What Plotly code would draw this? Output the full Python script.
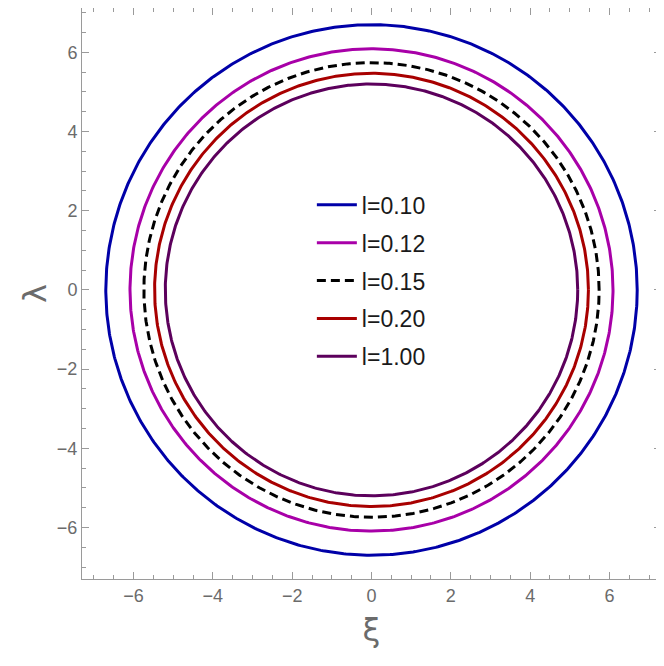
import numpy as np
import plotly.graph_objects as go

# photon-ring radii, one circle per value of l
labels = ['l=0.10', 'l=0.12', 'l=0.15', 'l=0.20', 'l=1.00']
radii = [6.70, 6.09, 5.74, 5.47, 5.20]
colors = ['#0000a8', '#a800a8', '#000000', '#a80000', '#5c005c']
dashes = ['solid', 'solid', '9px,5px', 'solid', 'solid']

theta = np.linspace(0, 2 * np.pi, 721)

fig = go.Figure()
for i, (name, r) in enumerate(zip(labels, radii)):
    fig.add_trace(go.Scatter(
        x=r * np.cos(theta),
        y=r * np.sin(theta),
        mode='lines',
        name=name,
        legendgroup=name,
        line=dict(color=colors[i], width=3, dash=dashes[i]),
    ))

axis_style = dict(
    dtick=2,
    automargin=False,
    showgrid=False,
    zeroline=False,
    showline=True,
    linecolor='#9a9a9a',
    linewidth=1,
    mirror='ticks',
    ticks='inside',
    ticklen=7,
    tickcolor='#9a9a9a',
    tickfont=dict(family='Liberation Sans, Arial', size=18, color='#6b6b6b'),
    minor=dict(ticks='inside', dtick=0.5, ticklen=4, tickcolor='#9a9a9a'),
    title_font=dict(family='DejaVu Sans', size=32, color='#6b6b6b'),
)

# the page has an 8px body margin, so the figure is a bit smaller
fig.update_xaxes(axis_style, range=[-7.3, 7.3], title_text='ξ', title_standoff=14)
fig.update_yaxes(axis_style, range=[-7.3, 7.12], title_text='λ', title_standoff=0)

fig.update_layout(
    width=656,
    height=658,
    margin=dict(l=74, r=3, t=0, b=87),
    plot_bgcolor='white',
    paper_bgcolor='white',
    showlegend=True,
    legend=dict(
        x=0.397, y=0.693,
        xanchor='left', yanchor='top',
        bgcolor='rgba(0,0,0,0)',
        traceorder='grouped',
        tracegroupgap=5,
        itemwidth=40,
        font=dict(family='Liberation Sans, Arial', size=23, color='#1a1a1a'),
    ),
)

fig.write_html("out.html")
